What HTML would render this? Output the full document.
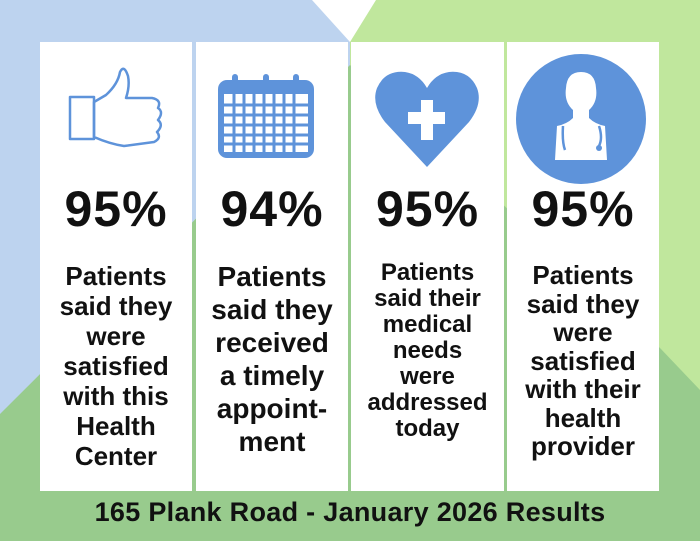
<!DOCTYPE html>
<html><head><meta charset="utf-8"><style>
body{margin:0;width:700px;height:541px;overflow:hidden;position:relative;font-family:"Liberation Sans",sans-serif;}
svg.bg{position:absolute;left:0;top:0}
.card{position:absolute;top:42px;height:449px;background:#fff;text-align:center;color:#111}
.pct{position:absolute;left:0;right:0;top:140px;font-size:50px;font-weight:bold;letter-spacing:1px;line-height:54px}
.txt{position:absolute;left:0;right:0;font-weight:bold}
.ico{position:absolute;left:0;top:0}
.foot{position:absolute;left:0;width:700px;top:497px;text-align:center;font-size:27px;font-weight:bold;color:#111;letter-spacing:0.3px}
</style></head><body>
<svg class="bg" width="700" height="541">
<rect width="700" height="541" fill="#c0e79d"/>
<polygon points="0,0 350,0 350,541 0,541" fill="#bdd3ef"/>
<polygon points="312,0 376,0 350,42" fill="#fff"/>
<polygon points="0,414 350,65 660,348 700,390 700,541 0,541" fill="#98cb8d"/>
</svg>
<div class="card" style="left:40px;width:152px">
<svg class="ico" width="152" height="130"><g fill="none" stroke="#5e93da" stroke-width="2.5" stroke-linejoin="round">
<rect x="30" y="100" width="24" height="42" transform="translate(0,-45)"/>
<path d="M54 60 L66 53 Q78 42 80 30 Q84 22 88 34 Q90 44 86 56 L112 56 Q122 58 118 66 Q124 70 118 78 Q124 83 117 90 Q122 96 114 100 L84 104 Q70 102 54 95 Z"/>
</g></svg>
<div class="pct">95%</div>
<div class="txt" style="top:219px;font-size:26px;line-height:30px">Patients<br>said they<br>were<br>satisfied<br>with this<br>Health<br>Center</div>
</div>
<div class="card" style="left:196px;width:152px">
<svg class="ico" width="152" height="130"><g fill="#5e93da">
<rect x="22" y="38" width="96" height="78" rx="9"/>
<rect x="36" y="32" width="6" height="20" rx="3"/><rect x="67" y="32" width="6" height="20" rx="3"/><rect x="97" y="32" width="6" height="20" rx="3"/>
</g><g fill="#fff">
<rect x="28" y="52" width="84" height="58"/>
</g><g stroke="#5e93da" stroke-width="3">
<path d="M28 63H112M28 73H112M28 83H112M28 93H112M28 102H112M38 52V110M48 52V110M58 52V110M68 52V110M78 52V110M88 52V110M98 52V110"/></g></svg>
<div class="pct">94%</div>
<div class="txt" style="top:218px;font-size:28px;line-height:33px">Patients<br>said they<br>received<br>a timely<br>appoint-<br>ment</div>
</div>
<div class="card" style="left:351px;width:153px">
<svg class="ico" width="153" height="130"><path d="M76 125 L34 80 Q20 62 26 46 Q34 28 54 30 Q68 32 76 46 Q84 32 98 30 Q118 28 126 46 Q132 62 118 80 Z" fill="#5e93da"/>
<path d="M70 58H82V70H94V82H82V98H70V82H57V70H70Z" fill="#fff"/></svg>
<div class="pct">95%</div>
<div class="txt" style="top:218px;font-size:24px;line-height:26px">Patients<br>said their<br>medical<br>needs<br>were<br>addressed<br>today</div>
</div>
<div class="card" style="left:507px;width:152px">
<svg class="ico" width="152" height="145"><ellipse cx="74" cy="77" rx="65" ry="65" fill="#5e93da"/>
<path d="M74 30 Q60 30 59 46 Q57 60 66 68 L66 76 Q60 82 50 84 L48 118 L100 118 L98 84 Q88 82 82 76 L82 68 Q91 60 89 46 Q88 30 74 30Z" fill="#fff"/>
<path d="M56 84 Q55 100 58 108 M92 84 Q96 96 92 104" stroke="#5e93da" stroke-width="2.5" fill="none"/><circle cx="92" cy="106" r="3" fill="#5e93da"/></svg>
<div class="pct">95%</div>
<div class="txt" style="top:219px;font-size:26px;line-height:28.5px">Patients<br>said they<br>were<br>satisfied<br>with their<br>health<br>provider</div>
</div>
<div class="foot">165 Plank Road - January 2026 Results</div>
</body></html>
